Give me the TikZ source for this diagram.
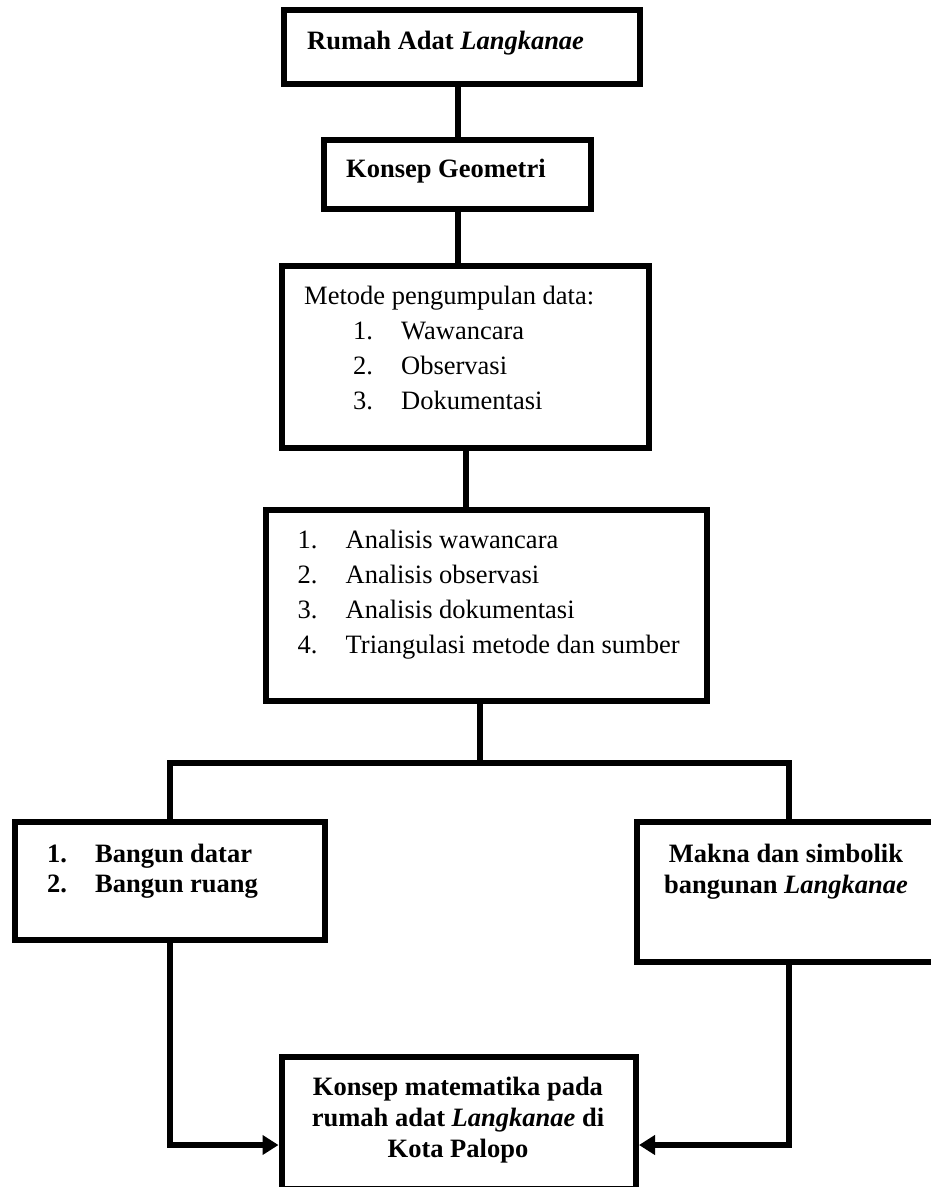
\documentclass[tikz,border=0pt]{standalone}
\usepackage{fontspec}
\setmainfont{Liberation Serif}
\usetikzlibrary{arrows.meta}
\newcommand{\num}[1]{\makebox[48pt][l]{#1}}

\begin{document}
\begin{tikzpicture}[x=1pt, y=-1pt,
    box/.style={draw, line width=6pt, rectangle, inner sep=0pt},
    list/.style={inner sep=0pt, align=left, anchor=north west, font=\fontsize{26.5}{35}\selectfont},
    bold/.style={inner sep=0pt, font=\fontsize{26.5}{31}\selectfont\bfseries},
    link/.style={line width=6pt},
    arrow/.style={link, -{Triangle[length=16pt, width=19pt]}}]

    % Page size
    \useasboundingbox (0, 0) rectangle (931, 1187);

    % Draw the boxes
    \node[box, minimum width=356pt, minimum height=74pt] (adat) at (462, 47) {};
    \node[box, minimum width=267pt, minimum height=69pt] (geometri) at (457.5, 174.5) {};
    \node[box, minimum width=367pt, minimum height=182pt] (metode) at (465.5, 357) {};
    \node[box, minimum width=441pt, minimum height=191pt] (analisis) at (486.5, 605.5) {};
    \node[box, minimum width=310pt, minimum height=118pt] (bangun) at (170, 881) {};
    \node[box, minimum width=304pt, minimum height=140pt] (makna) at (789, 892) {}; % runs off the right edge
    \node[box, minimum width=354.5pt, minimum height=132pt] (konsep) at (458.75, 1123) {}; % runs off the bottom

    % Texts in the boxes
    \node[bold, anchor=base west] (t-adat) at (307, 49) {Rumah Adat \textit{Langkanae}};
    \node[bold, anchor=base west] (t-geometri) at (346, 177) {Konsep Geometri};
    \node[list] (t-metode) at (304, 286) {Metode pengumpulan data:\\
        \hspace*{49pt}\num{1.}Wawancara\\
        \hspace*{49pt}\num{2.}Observasi\\
        \hspace*{49pt}\num{3.}Dokumentasi};
    \node[list] (t-analisis) at (297.5, 530) {\num{1.}Analisis wawancara\\
        \num{2.}Analisis observasi\\
        \num{3.}Analisis dokumentasi\\
        \num{4.}Triangulasi metode dan sumber};
    \node[list, font=\fontsize{26.5}{30}\selectfont\bfseries] (t-bangun) at (47, 844) {\num{1.}Bangun datar\\
        \num{2.}Bangun ruang};
    \node[bold, align=center, anchor=north] (t-makna) at (786, 844) {Makna dan simbolik\\
        bangunan \textit{Langkanae}};
    \node[bold, align=center, anchor=north] (t-konsep) at (458, 1077) {Konsep matematika pada\\
        rumah adat \textit{Langkanae} di\\
        Kota Palopo};

    % Straight links down the middle
    \draw[link] (geometri.north) -- (geometri.north |- adat.south);
    \draw[link] (geometri.south) -- (geometri.south |- metode.north);
    \draw[link] (metode.south) -- (metode.south |- analisis.north);

    % Split into the two branches
    \coordinate (cabang) at (480, 763);
    \draw[link] (cabang |- analisis.south) -- (cabang);
    \draw[link] (bangun.north) |- (cabang) -| (makna.north);

    % Arrows into the last box
    \coordinate (baris) at (0, 1145);
    \draw[arrow] (bangun.south) |- (konsep.west |- baris);
    \draw[arrow] (makna.south) |- (konsep.east |- baris);
\end{tikzpicture}
\end{document}
